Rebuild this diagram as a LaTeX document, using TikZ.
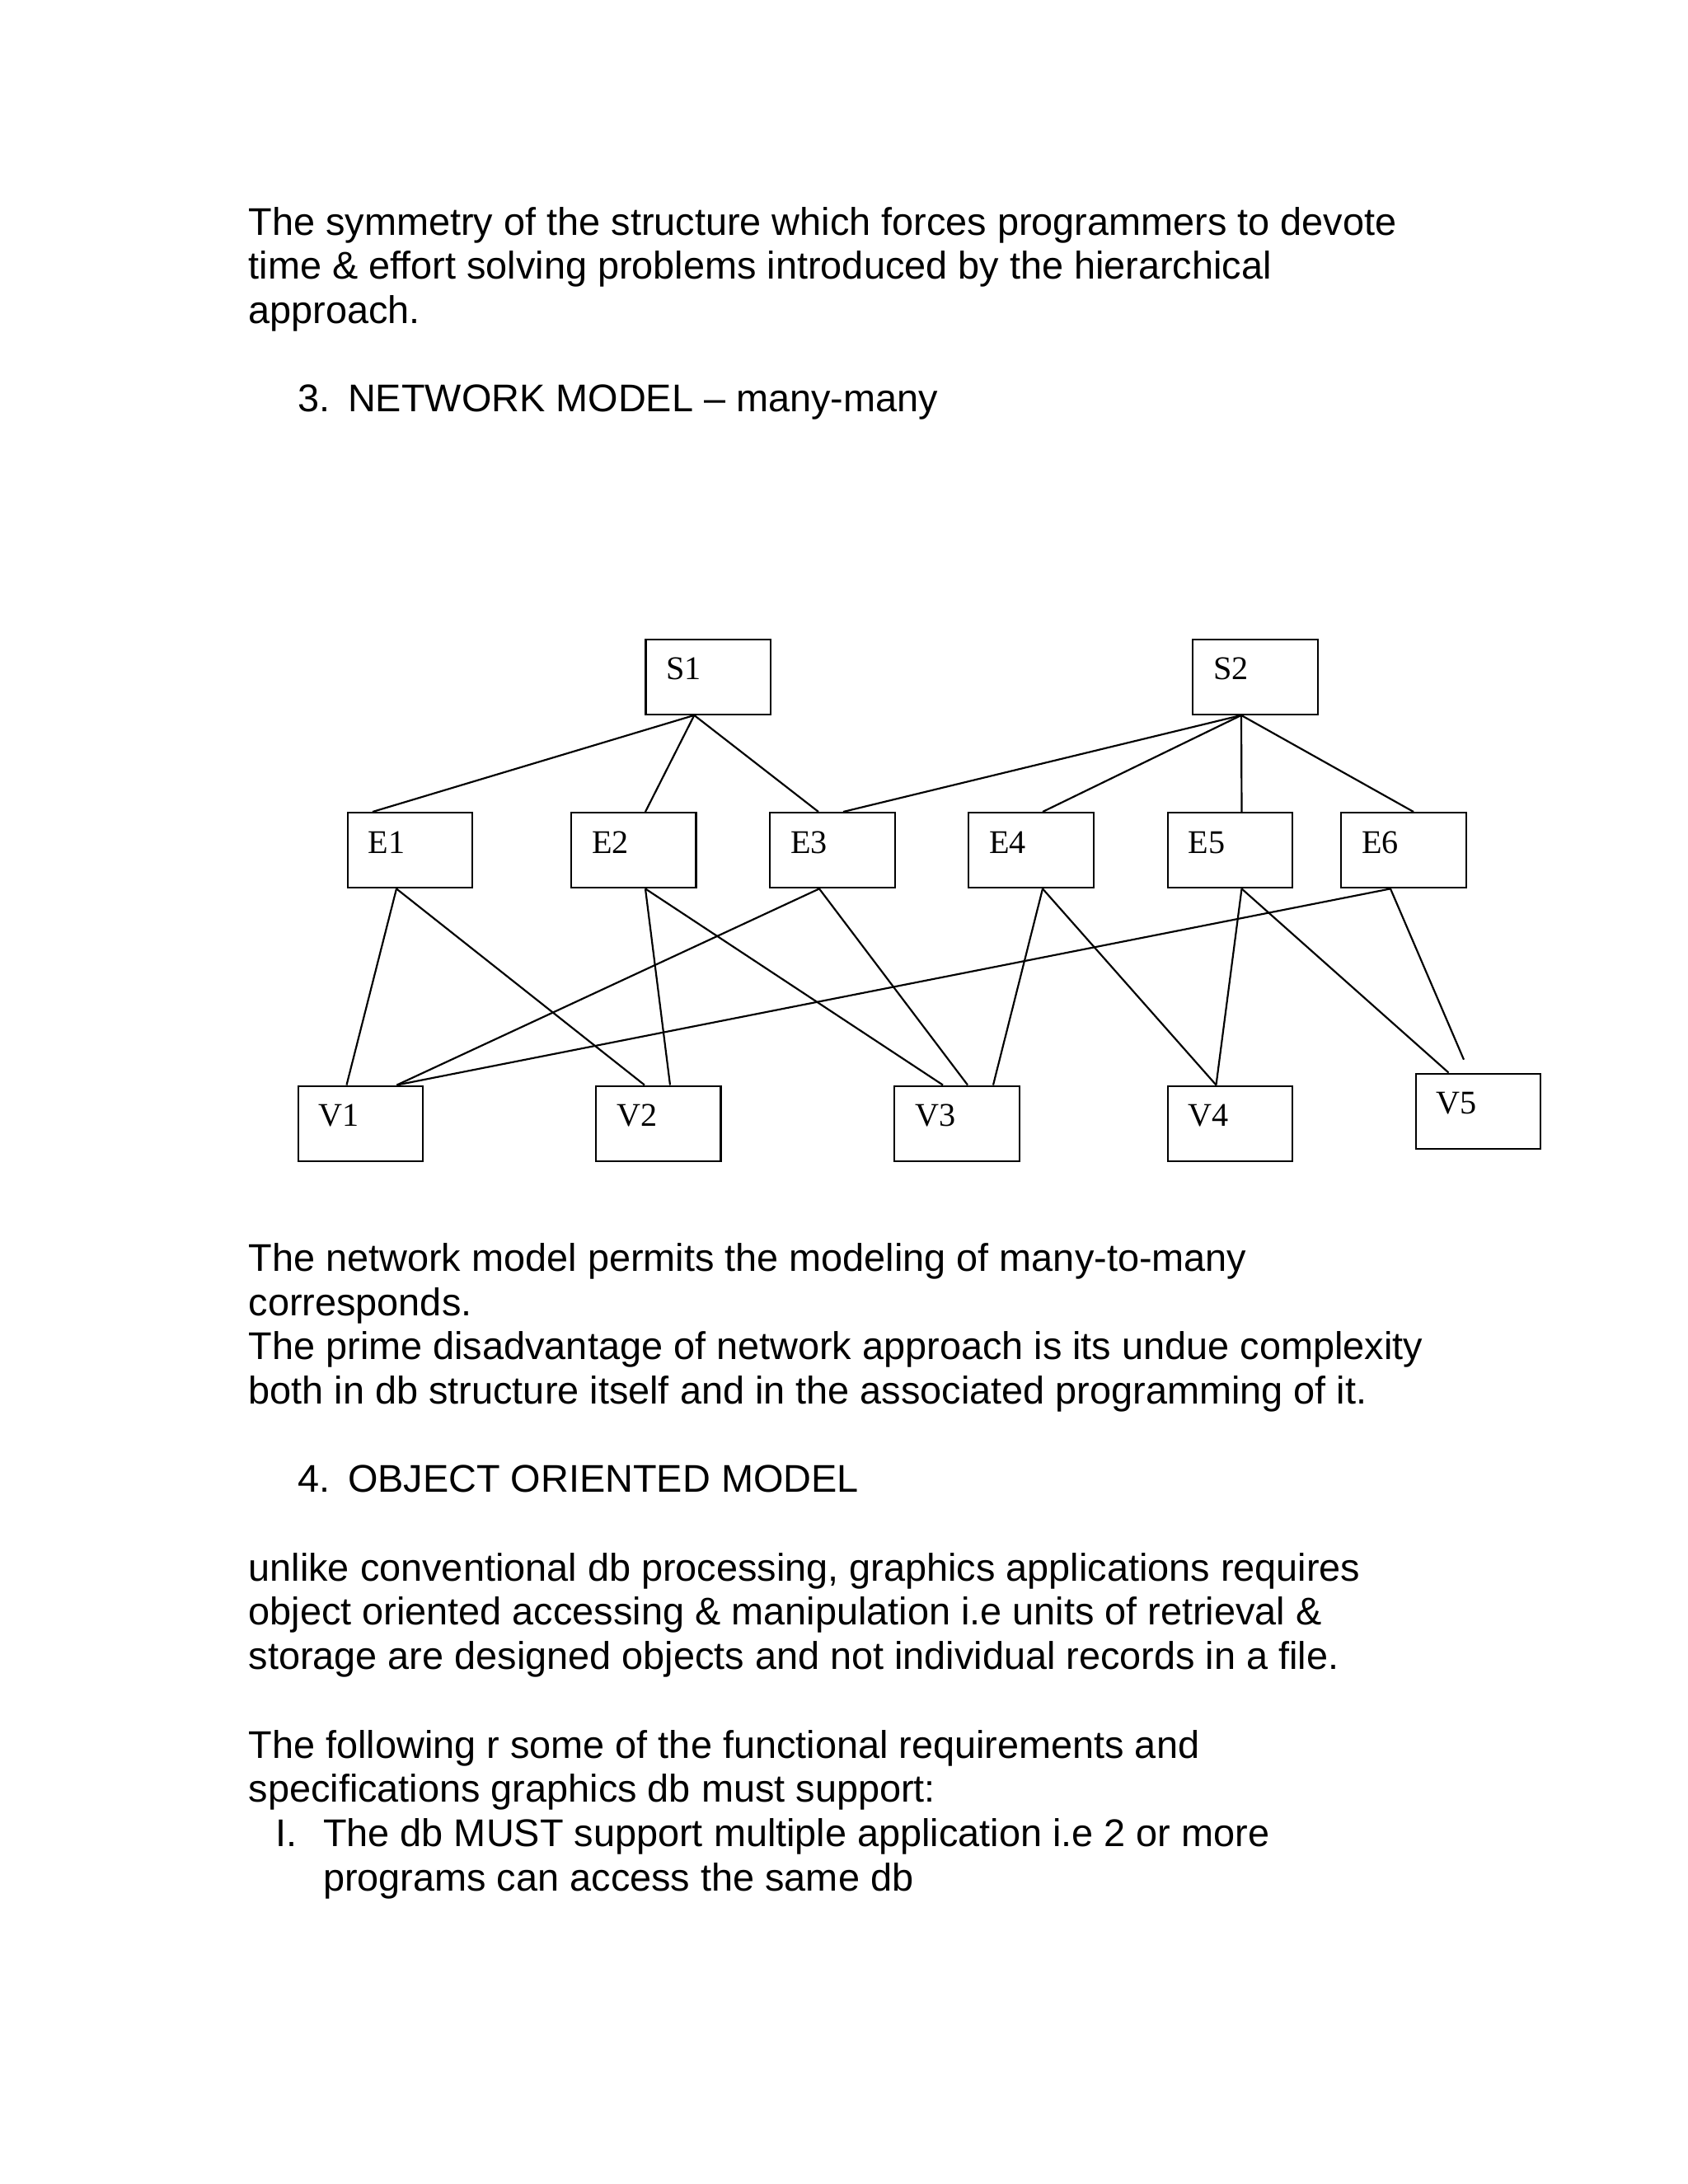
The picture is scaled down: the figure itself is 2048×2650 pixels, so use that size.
\documentclass[tikz,border=0pt]{standalone}
\usepackage{fontspec}
\setmainfont{Liberation Sans}
\newfontfamily\boxfont{Liberation Serif}
\usetikzlibrary{calc}
\frenchspacing
\tikzset{
  box/.style={draw, line width=0.7pt, minimum width=45.27pt, minimum height=27.2pt, inner sep=0pt, anchor=north west},
  lbl/.style={font=\boxfont\fontsize{12}{14}\selectfont, anchor=base west, inner sep=0pt},
  txt/.style={font=\fontsize{14}{16}\selectfont, anchor=base west, inner sep=0pt},
  txtr/.style={font=\fontsize{14}{16}\selectfont, anchor=base east, inner sep=0pt},
  link/.style={line width=0.65pt}
}
\begin{document}
\begin{tikzpicture}[x=0.29883pt,y=-0.29883pt]
\useasboundingbox (0,0) rectangle (2048,2650);
\fill[white] (0,0) rectangle (2048,2650);

% ---- text above
\node[txt] (t1) at (301,285) {The symmetry of the structure which forces programmers to devote};
\node[txt] (t2) at (301,338.7) {time \& effort solving problems introduced by the hierarchical};
\node[txt] (t3) at (301,392.4) {approach.};
\node[txt] (n3) at (361,499.8) {3.};
\node[txt] (h3) at (421.5,499.8) {NETWORK MODEL – many-many};

% ---- boxes
\node[box] (S1) at (782.3,774.5) {};
\node[box] (S2) at (1446,774.5) {};
\node[box] (E1) at (420.5,985) {};
\node[box] (E2) at (692,985) {};
\node[box] (E3) at (933,985) {};
\node[box] (E4) at (1174,985) {};
\node[box] (E5) at (1415.5,985) {};
\node[box] (E6) at (1626,985) {};
\node[box] (V1) at (360.5,1316.5) {};
\node[box] (V2) at (722,1316.5) {};
\node[box] (V3) at (1084,1316.5) {};
\node[box] (V4) at (1415.5,1316.5) {};
\node[box] (V5) at (1716.5,1301.5) {};

\foreach \b in {S1,S2,E1,E2,E3,E4,E5,E6,V1,V2,V3,V4,V5}
  \node[lbl] (\b t) at ($(\b.north west)+(25.5,50)$) {\b};

% ---- connectors
\draw[link] ($(S1.south west)+(60,0)$) -- ($(E1.north west)+(31.5,0)$);
\draw[link] ($(S1.south west)+(60,0)$) -- ($(E2.north west)+(91,0)$);
\draw[link] ($(S1.south west)+(60,0)$) -- ($(E3.north west)+(60,0)$);
\draw[link] ($(S2.south west)+(60,0)$) -- ($(E3.north west)+(90,0)$);
\draw[link] ($(S2.south west)+(60,0)$) -- ($(E4.north west)+(91,0)$);
\draw[link] ($(S2.south west)+(60,0)$) -- ($(E5.north west)+(91,0)$);
\draw[link] ($(S2.south west)+(60,0)$) -- ($(E6.north west)+(89,0)$);
\draw[link] ($(E1.south west)+(60.5,0)$) -- ($(V1.north west)+(60,0)$);
\draw[link] ($(E1.south west)+(60.5,0)$) -- ($(V2.north west)+(60,0)$);
\draw[link] ($(E2.south west)+(91,0)$) -- ($(V2.north west)+(91,0)$);
\draw[link] ($(E2.south west)+(91,0)$) -- ($(V3.north west)+(60,0)$);
\draw[link] ($(E3.south west)+(61,0)$) -- ($(V1.north west)+(121,0)$);
\draw[link] ($(E3.south west)+(61,0)$) -- ($(V3.north west)+(90,0)$);
\draw[link] ($(E4.south west)+(91,0)$) -- ($(V3.north west)+(121,0)$);
\draw[link] ($(E4.south west)+(91,0)$) -- ($(V4.north west)+(60,0)$);
\draw[link] ($(E5.south west)+(91,0)$) -- ($(V4.north west)+(60,0)$);
\draw[link] ($(E5.south west)+(91,0)$) -- ($(V5.north west)+(41,0)$);
\draw[link] ($(E6.south west)+(61,0)$) -- ($(V1.north west)+(121,0)$);
\coordinate (E6end) at (1776,1285.7);
\draw[link] ($(E6.south west)+(61,0)$) -- (E6end);

% ---- text below
\node[txt] (t5) at (301,1542.3) {The network model permits the modeling of many-to-many};
\node[txt] (t6) at (301,1596) {corresponds.};
\node[txt] (t7) at (301,1649.7) {The prime disadvantage of network approach is its undue complexity};
\node[txt] (t8) at (301,1703.4) {both in db structure itself and in the associated programming of it.};
\node[txt] (n4) at (361,1810.8) {4.};
\node[txt] (h4) at (421.5,1810.8) {OBJECT ORIENTED MODEL};
\node[txt] (t10) at (301,1918.2) {unlike conventional db processing, graphics applications requires};
\node[txt] (t11) at (301,1971.9) {object oriented accessing \& manipulation i.e units of retrieval \&};
\node[txt] (t12) at (301,2025.6) {storage are designed objects and not individual records in a file.};
\node[txt] (t13) at (301,2133) {The following r some of the functional requirements and};
\node[txt] (t14) at (301,2186.7) {specifications graphics db must support:};
\node[txtr] (nI) at (361,2240.4) {I.};
\node[txt] (t15) at (391.5,2240.4) {The db MUST support multiple application i.e 2 or more};
\node[txt] (t16) at (391.5,2294.1) {programs can access the same db};
\end{tikzpicture}
\end{document}
